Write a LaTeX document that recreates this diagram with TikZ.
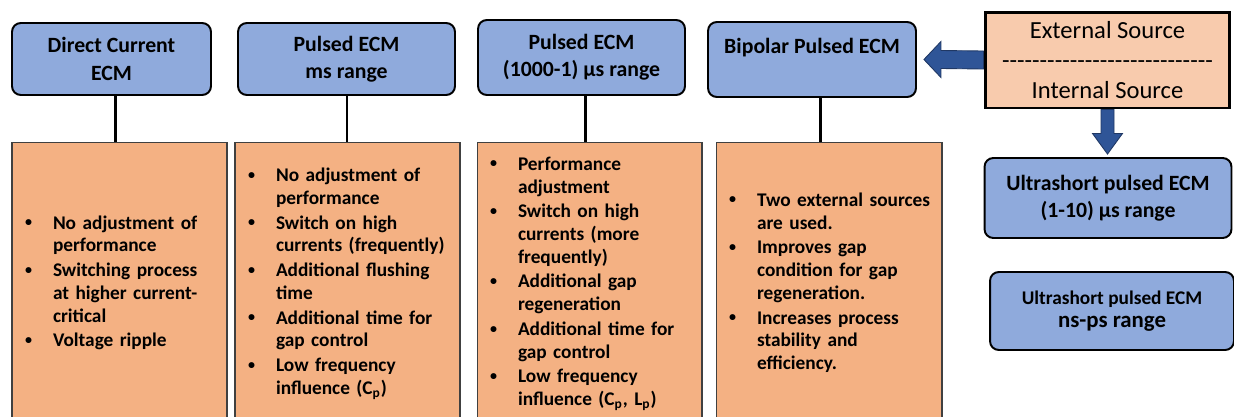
\documentclass[tikz,border=0pt]{standalone}
\usepackage{fontspec}
\setmainfont{Carlito}
\usetikzlibrary{calc}
\definecolor{boxblue}{HTML}{8FAADC}
\definecolor{boxorange}{HTML}{F4B183}
\definecolor{srcpeach}{HTML}{F8CBAD}
\definecolor{arrowblue}{HTML}{2F5597}
\definecolor{arrowedge}{HTML}{203864}
\newcommand{\bul}[1]{\par\noindent
  \makebox[0.56cm][l]{\raisebox{0.25ex}{\fontsize{8}{8}\selectfont\textbullet}}%
  \begin{tabular}[t]{@{}l@{}}#1\end{tabular}}
\newcommand{\dashrow}{\foreach \k in {1,...,28}{\mbox{-}}}

\begin{document}
\begin{tikzpicture}[
  x=0.02cm, y=-0.02cm,
  method/.style={rectangle, rounded corners=5pt, draw=black, line width=1.1pt,
                 fill=boxblue, align=center, inner sep=2pt,
                 font=\bfseries\fontsize{12.4}{15.5}\selectfont},
  detail/.style={rectangle, draw=black!75, line width=0.6pt, fill=boxorange,
                 minimum height=5.52cm, inner xsep=0.26cm, inner ysep=0pt,
                 align=left, font=\bfseries\fontsize{11}{13}\selectfont},
  source/.style={rectangle, draw=black, line width=1.7pt, fill=srcpeach,
                 align=center, minimum width=4.9cm, minimum height=1.92cm,
                 font=\fontsize{14}{17}\selectfont},
  link/.style={draw=black, line width=1.5pt},
  blockarrow/.style={fill=arrowblue, draw=arrowedge, line width=0.5pt},
]
  \useasboundingbox (0,0) rectangle (1234,416);
  \clip (0,0) rectangle (1234,416);

  \node[method, minimum width=3.98cm, minimum height=1.44cm] (b1) at (111.5,59)
    {Direct Current\\ECM};
  \node[method, minimum width=4.34cm, minimum height=1.44cm] (b2) at (346.5,59)
    {Pulsed ECM\\ms range};
  \node[method, minimum width=4.14cm, minimum height=1.5cm] (b3) at (581.5,57.5)
    {Pulsed ECM\\(1000-1) µs range};
  \node[method, minimum width=4.16cm, minimum height=1.5cm] (b4) at (812,59.5)
    {Bipolar Pulsed ECM\\\mbox{}};
  \node[source] (src) at (1107.5,60)
    {External Source\\\dashrow\\Internal Source};
  \node[method, minimum width=4.94cm, minimum height=1.6cm] (us1) at (1108,198)
    {Ultrashort pulsed ECM\\(1-10) µs range};
  \node[method, minimum width=4.88cm, minimum height=1.56cm,
        font=\bfseries\fontsize{11}{13}\selectfont] (us2) at (1112,311)
    {Ultrashort pulsed ECM\\{\fontsize{13}{13}\selectfont ns-ps range}};

  \node[detail, minimum width=4.3cm, text width=3.78cm] (o1) at (119.5,280)
    {\bul{No adjustment of\\performance}
     \bul{Switching process\\at higher current-\\critical}
     \bul{Voltage ripple}};
  \node[detail, minimum width=4.5cm, text width=3.98cm] (o2) at (347.5,280)
    {\bul{No adjustment of\\performance}
     \bul{Switch on high\\currents (frequently)}
     \bul{Additional flushing\\time}
     \bul{Additional time for\\gap control}
     \bul{Low frequency\\influence (C\textsubscript{p})}};
  \node[detail, minimum width=4.5cm, text width=3.98cm] (o3) at (589.5,280)
    {\bul{Performance\\adjustment}
     \bul{Switch on high\\currents (more\\frequently)}
     \bul{Additional gap\\regeneration}
     \bul{Additional time for\\gap control}
     \bul{Low frequency\\influence (C\textsubscript{p}, L\textsubscript{p})}};
  \node[detail, minimum width=4.52cm, text width=4.0cm] (o4) at (829,280)
    {\bul{Two external sources\\are used.}
     \bul{Improves gap\\condition for gap\\regeneration.}
     \bul{Increases process\\stability and\\efficiency.}};

  \foreach \i in {1,...,4}{
    \coordinate (m\i) at ($(b\i.south)!0.5!(o\i.north)$);
    \draw[link] (b\i.south -| m\i) -- (o\i.north -| m\i);
  }

  \draw[blockarrow] ($(src.west)+(0,-9)$) -- ($(b4.east)+(24,-9)$)
    -- ($(b4.east)+(24,-18)$) -- ($(b4.east)+(7,0)$) -- ($(b4.east)+(24,18)$)
    -- ($(b4.east)+(24,9)$) -- ($(src.west)+(0,9)$) -- cycle;
  \draw[blockarrow] ($(src.south)+(-6.5,0)$) -- ($(src.south)+(-6.5,24)$)
    -- ($(src.south)+(-15,24)$) -- ($(src.south |- us1.north)+(0,-3)$)
    -- ($(src.south)+(15,24)$) -- ($(src.south)+(6.5,24)$)
    -- ($(src.south)+(6.5,0)$) -- cycle;
\end{tikzpicture}
\end{document}
